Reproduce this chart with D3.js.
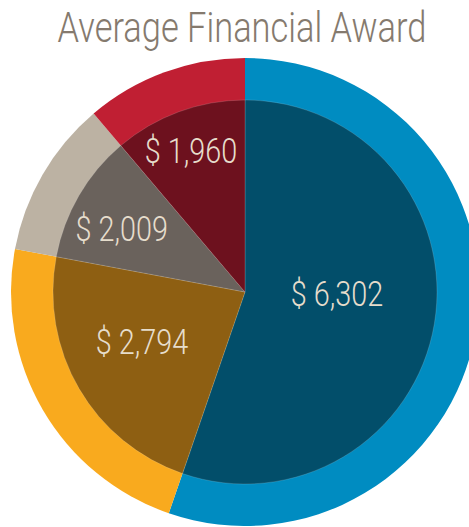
<!DOCTYPE html>
<html>
<head>
<meta charset="utf-8">
<script src="https://cdn.jsdelivr.net/npm/d3@7"></script>
<style>
  body { margin: 0; background: #fff; }
  svg { display: block; }
</style>
</head>
<body>
<div id="chart"></div>
<script>
const categories = ['A', 'B', 'C', 'D']
const awards = [6302, 2794, 2009, 1960]
// slice sweep as drawn in the graphic (degrees), not proportional to awards
const sweep = [199, 81.6, 39.1, 40.3]
const outerColors = ['#008cc1', '#f9aa1e', '#bcb2a3', '#c01f33']
const innerColors = ['#024e6a', '#8e5f12', '#6a625c', '#6d111e']
const title = 'Average Financial Award'

const WIDTH = 469
const HEIGHT = 527
const CX = 245
const CY = 292
const R_OUT = 234
const R_IN = 192

const svg = d3.select('#chart')
	.append('svg')
		.attr('width', WIDTH)
		.attr('height', HEIGHT)

svg.append('text')
	.attr('transform', `translate(242, 42) scale(0.82, 1)`)
	.attr('text-anchor', 'middle')
	.attr('font-family', 'Roboto')
	.attr('font-weight', 300)
	.attr('font-size', 42)
	.attr('fill', '#857a6e')
	.text(title)

const data = categories.map((c, i) => ({ cat: c, award: awards[i], sweep: sweep[i], i }))

const pie = d3.pie()
	.value(d => d.sweep)
	.sort(null)

const arcs = pie(data)

const g = svg.append('g')
	.attr('transform', `translate(${CX}, ${CY})`)

const outerArc = d3.arc().innerRadius(0).outerRadius(R_OUT)
const innerArc = d3.arc().innerRadius(0).outerRadius(R_IN)

g.selectAll('path.outer')
	.data(arcs)
	.enter()
	.append('path')
		.attr('class', 'outer')
		.attr('d', outerArc)
		.attr('fill', d => outerColors[d.data.i])

g.selectAll('path.inner')
	.data(arcs)
	.enter()
	.append('path')
		.attr('class', 'inner')
		.attr('d', innerArc)
		.attr('fill', d => innerColors[d.data.i])
		.attr('stroke', 'rgba(255,255,255,0.25)')
		.attr('stroke-width', 0.6)

// label placement: [angle in degrees clockwise from top, radius]
const labelPos = [[90.6, 92], [244.6, 114], [297.5, 139], [339.2, 152]]
const fmt = d3.format(',')

g.selectAll('text.val')
	.data(arcs)
	.enter()
	.append('text')
		.attr('class', 'val')
		.attr('transform', d => {
			const [a, r] = labelPos[d.data.i]
			const rad = a * Math.PI / 180
			const x = Math.sin(rad) * r
			const y = -Math.cos(rad) * r
			return `translate(${x}, ${y + 13}) scale(0.8, 1)`
		})
		.attr('text-anchor', 'middle')
		.attr('font-family', 'Roboto')
		.attr('font-weight', 300)
		.attr('font-size', 36)
		.attr('fill', '#e6ddcc')
		.text(d => '$ ' + fmt(d.data.award))
</script>
</body>
</html>
